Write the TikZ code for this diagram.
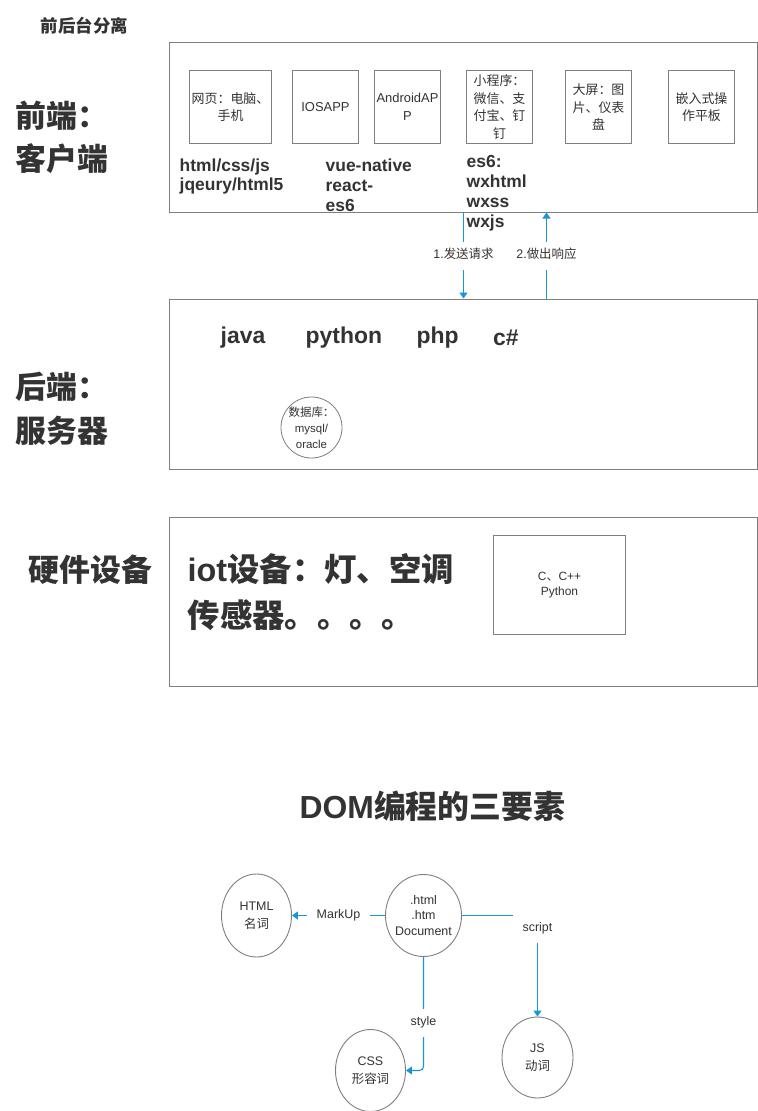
\documentclass[tikz,border=0pt]{standalone}
\usepackage{fontspec}
\setmainfont{Liberation Sans}
\newfontfamily\cjk{Noto Sans CJK SC}
\newcommand\zh[1]{{\cjk #1}}
\newcommand\fs[2]{\fontsize{#1}{#2}\selectfont}
\usetikzlibrary{arrows.meta,shapes.geometric}
\definecolor{txt}{HTML}{333333}
\definecolor{bord}{HTML}{7F7F7F}
\definecolor{flowblue}{HTML}{1896D6}
\begin{document}
\begin{tikzpicture}[x=1bp,y=-1bp,
  frame/.style={draw=bord,line width=1bp,inner sep=0pt,anchor=north west,minimum width=588bp},
  item/.style={draw=bord,line width=1bp,inner sep=0pt,minimum width=66bp,minimum height=73bp,align=center,text=txt,font=\fs{13}{17.5}},
  txtn/.style={inner sep=0pt,text=txt,align=left},
  flow/.style={draw=flowblue,line width=1.1bp,-{Triangle[length=6bp,width=8bp]}},
  lab/.style={fill=white,inner xsep=10bp,inner ysep=8bp,text height=9bp,text depth=3bp,text=txt,font=\fs{12.5}{15}},
  bub/.style={ellipse,draw=bord,line width=0.9bp,inner sep=0pt},
  bubtext/.style={text=txt,align=center,inner sep=0pt}
]
\fill[white] (0,0) rectangle (758,1111);
\useasboundingbox (0,0) rectangle (758,1111);
\begin{scope}[shift={(0.5,0.5)}]

% big frames
\node[frame,minimum height=170bp] (front) at (168,41) {};
\node[frame,minimum height=170bp] (back) at (168,298) {};
\node[frame,minimum height=169bp] (hw) at (168,516) {};

% client items
\node[item,minimum width=82bp] (web) at (230,106.5) {\zh{网页：电脑、}\\\zh{手机}};
\node[item] (ios) at (325,106.5) {IOSAPP};
\node[item] (android) at (407,106.5) {AndroidAP\\P};
\node[item] (mini) at (499,106.5) {\zh{小程序：}\\\zh{微信、支}\\\zh{付宝、钉}\\\zh{钉}};
\node[item] (screen) at (598,106.5) {\zh{大屏：图}\\\zh{片、仪表}\\\zh{盘}};
\node[item] (embed) at (701,106.5) {\zh{嵌入式操}\\\zh{作平板}};

% backend / hardware / DOM shapes
\node[circle,draw=bord,line width=0.8bp,minimum size=61bp,inner sep=0pt] (db) at (311,427) {};
\node[draw=bord,line width=1bp,minimum width=132bp,minimum height=99bp,inner sep=0pt,align=center,text=txt,font=\fs{12}{15}] (cbox) at (559,584.5) {C\zh{、}C++\\Python};
\node[bub,minimum width=70bp,minimum height=83bp] (html) at (256,915) {};
\node[bub,minimum width=76bp,minimum height=82bp] (doc) at (423,915) {};
\node[bub,minimum width=70bp,minimum height=82bp] (css) at (370,1070) {};
\node[bub,minimum width=71bp,minimum height=81bp] (js) at (537,1057) {};

% connectors (lines first, labels afterwards)
\coordinate (reqx) at (463,0);
\coordinate (resx) at (546,0);
\draw[flow] (reqx |- front.south) -- (reqx |- back.north);
\draw[flow] (resx |- back.north) -- (resx |- front.south);
\draw[flow] (doc) -- (html);
\draw[flow] (doc.east) -| (js.north);
\draw[flow,rounded corners=4bp] (doc.south) |- (css.east);

\path (reqx |- front.south) -- node[lab] (lreq) {1.\zh{发送请求}} (reqx |- back.north);
\path (resx |- back.north) -- node[lab] (lres) {2.\zh{做出响应}} (resx |- front.south);
\path (doc) -- node[lab] (lmark) {MarkUp} (html);
\path (doc.east) -| node[lab,pos=0.565] (lscript) {script} (js.north);
\path (doc.south) |- node[lab,pos=0.29] (lstyle) {style} (css.east);

% texts
\node[txtn,anchor=west,font=\cjk\bfseries\fs{17.5}{20}] (title) at (40,25) {前后台分离};
\node[txtn,anchor=west,font=\cjk\bfseries\fs{31}{43}] (lfront) at (15,136.5) {前端：\\客户端};
\node[txtn,anchor=west,font=\cjk\bfseries\fs{31}{44}] (lback) at (15,408) {后端：\\服务器};
\node[txtn,anchor=west,font=\cjk\bfseries\fs{31}{44}] (lhw) at (28,569) {硬件设备};

\node[txtn,anchor=west,font=\bfseries\fs{17.5}{20}] (tweb) at (179,176) {html/css/js\\jqeury/html5};
\node[txtn,anchor=west,font=\bfseries\fs{17.5}{20}] (tapp) at (325,185) {vue-native\\react-\\es6};
\node[txtn,anchor=west,font=\bfseries\fs{17.5}{20}] (tmini) at (466,193) {es6:\\wxhtml\\wxss\\wxjs};

\node[txtn,anchor=west,font=\bfseries\fs{23}{26}] (java) at (220,337) {java};
\node[txtn,anchor=west,font=\bfseries\fs{23}{26}] (python) at (305,337) {python};
\node[txtn,anchor=west,font=\bfseries\fs{23}{26}] (php) at (416,337) {php};
\node[txtn,anchor=west,font=\bfseries\fs{23}{26}] (csharp) at (492.5,337) {c\#};
\node[bubtext,font=\fs{11.5}{16}] (dbt) at (db.center) {\zh{数据库：}\\mysql/\\oracle};

\node[txtn,anchor=west,font=\bfseries\fs{32.5}{46}] (iot) at (187,591.5) {iot\zh{设备：灯、空调}\\\zh{传感器。。。。}};

\node[txtn,font=\bfseries\fs{32}{36}] (dom) at (432,806) {DOM\zh{编程的三要素}};
\node[bubtext,font=\fs{12.5}{17.5}] (htmlt) at (html.center) {HTML\\\zh{名词}};
\node[bubtext,font=\fs{12.5}{15.5}] (doct) at (doc.center) {.html\\.htm\\Document};
\node[bubtext,font=\fs{12.5}{18}] (csst) at (css.center) {CSS\\\zh{形容词}};
\node[bubtext,font=\fs{12.5}{17.5}] (jst) at (js.center) {JS\\\zh{动词}};
\end{scope}
\end{tikzpicture}
\end{document}
